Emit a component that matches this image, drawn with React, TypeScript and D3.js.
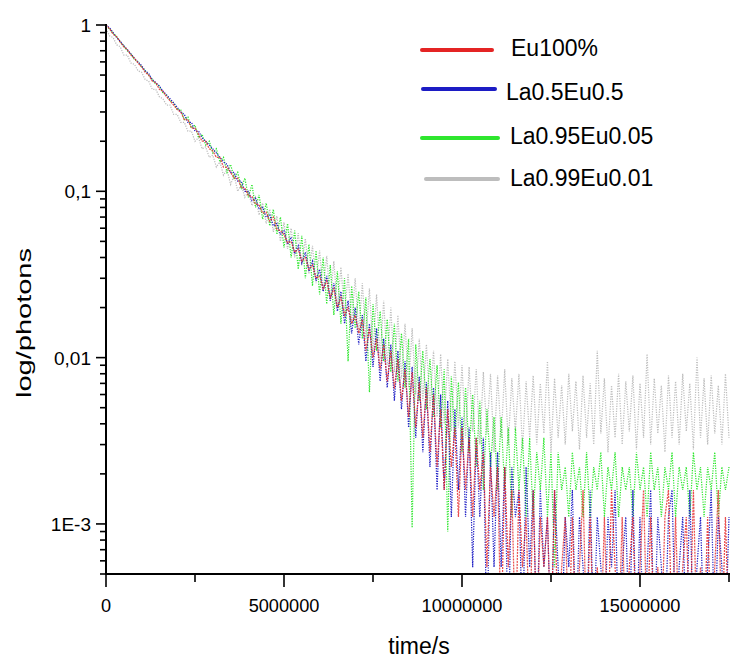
import React, { useEffect, useRef } from "react";
import * as d3 from "d3";

// time axis (s), one sample every 0.1 Ms
const times = [
  0, 0.1e6, 0.2e6, 0.3e6, 0.4e6, 0.5e6, 0.6e6, 0.7e6, 0.8e6, 0.9e6,
  1.0e6, 1.1e6, 1.2e6, 1.3e6, 1.4e6, 1.5e6, 1.6e6, 1.7e6, 1.8e6, 1.9e6,
  2.0e6, 2.1e6, 2.2e6, 2.3e6, 2.4e6, 2.5e6, 2.6e6, 2.7e6, 2.8e6, 2.9e6,
  3.0e6, 3.1e6, 3.2e6, 3.3e6, 3.4e6, 3.5e6, 3.6e6, 3.7e6, 3.8e6, 3.9e6,
  4.0e6, 4.1e6, 4.2e6, 4.3e6, 4.4e6, 4.5e6, 4.6e6, 4.7e6, 4.8e6, 4.9e6,
  5.0e6, 5.1e6, 5.2e6, 5.3e6, 5.4e6, 5.5e6, 5.6e6, 5.7e6, 5.8e6, 5.9e6,
  6.0e6, 6.1e6, 6.2e6, 6.3e6, 6.4e6, 6.5e6, 6.6e6, 6.7e6, 6.8e6, 6.9e6,
  7.0e6, 7.1e6, 7.2e6, 7.3e6, 7.4e6, 7.5e6, 7.6e6, 7.7e6, 7.8e6, 7.9e6,
  8.0e6, 8.1e6, 8.2e6, 8.3e6, 8.4e6, 8.5e6, 8.6e6, 8.7e6, 8.8e6, 8.9e6,
  9.0e6, 9.1e6, 9.2e6, 9.3e6, 9.4e6, 9.5e6, 9.6e6, 9.7e6, 9.8e6, 9.9e6,
  10.0e6, 10.1e6, 10.2e6, 10.3e6, 10.4e6, 10.5e6, 10.6e6, 10.7e6, 10.8e6, 10.9e6,
  11.0e6, 11.1e6, 11.2e6, 11.3e6, 11.4e6, 11.5e6, 11.6e6, 11.7e6, 11.8e6, 11.9e6,
  12.0e6, 12.1e6, 12.2e6, 12.3e6, 12.4e6, 12.5e6, 12.6e6, 12.7e6, 12.8e6, 12.9e6,
  13.0e6, 13.1e6, 13.2e6, 13.3e6, 13.4e6, 13.5e6, 13.6e6, 13.7e6, 13.8e6, 13.9e6,
  14.0e6, 14.1e6, 14.2e6, 14.3e6, 14.4e6, 14.5e6, 14.6e6, 14.7e6, 14.8e6, 14.9e6,
  15.0e6, 15.1e6, 15.2e6, 15.3e6, 15.4e6, 15.5e6, 15.6e6, 15.7e6, 15.8e6, 15.9e6,
  16.0e6, 16.1e6, 16.2e6, 16.3e6, 16.4e6, 16.5e6, 16.6e6, 16.7e6, 16.8e6, 16.9e6,
  17.0e6, 17.1e6, 17.2e6, 17.3e6, 17.4e6, 17.5e6,
];

// normalised photon counts, 0 = empty bin
const eu100 = [
  1, 0.95, 0.88, 0.85, 0.79, 0.74, 0.71, 0.66, 0.63, 0.59,
  0.56, 0.52, 0.50, 0.46, 0.45, 0.41, 0.40, 0.37, 0.35, 0.33,
  0.31, 0.30, 0.27, 0.27, 0.24, 0.24, 0.22, 0.20, 0.20, 0.18,
  0.175, 0.16, 0.16, 0.14, 0.14, 0.13, 0.12, 0.12, 0.105, 0.105,
  0.094, 0.093, 0.084, 0.083, 0.074, 0.075, 0.066, 0.070, 0.059, 0.058,
  0.055, 0.049, 0.050, 0.043, 0.045, 0.038, 0.040, 0.034, 0.036, 0.030,
  0.031, 0.026, 0.029, 0.023, 0.026, 0.020, 0.023, 0.018, 0.020, 0.016,
  0.018, 0.014, 0.017, 0.011, 0.015, 0.010, 0.013, 0.0085, 0.012, 0.0072,
  0.011, 0.0065, 0.0098, 0.0055, 0.0085, 0.0044, 0.0082, 0.0038, 0.0071, 0.0033,
  0.0066, 0.0027, 0.0060, 0.0022, 0.0049, 0.0016, 0.0049, 0.0022, 0.0038, 0.0011,
  0.0038, 0.0016, 0.0033, 0.0011, 0.0033, 0.0016, 0.0027, 0.00055, 0.0022, 0.0011,
  0.0022, 0, 0.0022, 0.00055, 0.0016, 0, 0.0016, 0.00055, 0.0011, 0,
  0.0016, 0, 0.0011, 0.00055, 0.0011, 0, 0.0016, 0, 0.00055, 0.0011,
  0, 0.0011, 0, 0.00055, 0.0016, 0, 0.0011, 0, 0.00055, 0,
  0.0011, 0, 0.0016, 0.00055, 0, 0.0011, 0, 0.00055, 0.0011, 0,
  0.00055, 0.0016, 0, 0.0011, 0, 0.00055, 0, 0.0011, 0.0016, 0,
  0.0011, 0, 0.00055, 0.0011, 0, 0.0016, 0, 0.00055, 0, 0.0011,
  0, 0.00055, 0.0016, 0, 0.0011, 0,
];

const la05eu05 = [
  1, 0.96, 0.90, 0.84, 0.80, 0.75, 0.71, 0.67, 0.63, 0.60,
  0.57, 0.53, 0.51, 0.47, 0.45, 0.43, 0.40, 0.38, 0.36, 0.34,
  0.32, 0.30, 0.29, 0.26, 0.26, 0.23, 0.23, 0.21, 0.20, 0.19,
  0.18, 0.17, 0.16, 0.15, 0.145, 0.13, 0.13, 0.115, 0.115, 0.10,
  0.10, 0.088, 0.091, 0.078, 0.080, 0.070, 0.072, 0.062, 0.064, 0.055,
  0.058, 0.048, 0.053, 0.042, 0.047, 0.037, 0.043, 0.033, 0.038, 0.029,
  0.034, 0.025, 0.031, 0.022, 0.028, 0.019, 0.025, 0.016, 0.022, 0.014,
  0.020, 0.012, 0.018, 0.0095, 0.016, 0.0088, 0.015, 0.0072, 0.013, 0.0066,
  0.012, 0.0055, 0.011, 0.0049, 0.0095, 0.0038, 0.0088, 0.0033, 0.0077, 0.0027,
  0.0071, 0.0022, 0.0066, 0.0016, 0.0060, 0.0016, 0.0055, 0.0011, 0.0049, 0.0016,
  0.0044, 0.0011, 0.0038, 0.00055, 0.0033, 0.0011, 0.0033, 0, 0.0027, 0.00055,
  0.0027, 0.00055, 0.0022, 0, 0.0022, 0.0011, 0.0016, 0, 0.0022, 0.00055,
  0.0016, 0, 0.0016, 0.00055, 0.0011, 0, 0.0016, 0.00055, 0, 0.0011,
  0.00055, 0.0016, 0, 0.0011, 0.00055, 0, 0.0016, 0, 0.0011, 0.00055,
  0, 0.0011, 0.00055, 0.0016, 0, 0.00055, 0.0011, 0, 0.0016, 0,
  0.0011, 0, 0.00055, 0.0016, 0, 0.0011, 0.00055, 0, 0.0011, 0.0016,
  0, 0.00055, 0.0011, 0, 0.0016, 0, 0.00055, 0.0011, 0, 0.00055,
  0.0016, 0, 0.0011, 0.00055, 0, 0.0011,
];

const la095eu005 = [
  0.98, 0.95, 0.89, 0.85, 0.79, 0.75, 0.70, 0.67, 0.62, 0.60,
  0.56, 0.53, 0.50, 0.47, 0.44, 0.43, 0.39, 0.38, 0.35, 0.34,
  0.31, 0.31, 0.27, 0.28, 0.24, 0.25, 0.21, 0.22, 0.19, 0.20,
  0.17, 0.18, 0.15, 0.16, 0.13, 0.145, 0.12, 0.13, 0.105, 0.12,
  0.092, 0.11, 0.080, 0.095, 0.068, 0.085, 0.062, 0.078, 0.055, 0.070,
  0.046, 0.064, 0.040, 0.058, 0.034, 0.054, 0.030, 0.048, 0.027, 0.044,
  0.024, 0.040, 0.021, 0.036, 0.018, 0.033, 0.016, 0.030, 0.0095, 0.027,
  0.015, 0.025, 0.013, 0.023, 0.0062, 0.021, 0.011, 0.019, 0.0095, 0.017,
  0.0082, 0.016, 0.0072, 0.014, 0.0066, 0.013, 0.00095, 0.012, 0.0055, 0.011,
  0.0049, 0.0098, 0.0044, 0.0090, 0.0038, 0.0085, 0.0009, 0.0077, 0.0033, 0.0071,
  0.0027, 0.0066, 0.0027, 0.0060, 0.0022, 0.0055, 0.0016, 0.0049, 0.0022, 0.0044,
  0.0016, 0.0044, 0.0016, 0.0038, 0.0011, 0.0038, 0.0016, 0.0033, 0.0011, 0.0033,
  0.0011, 0.0027, 0.0016, 0.0033, 0.0011, 0.0027, 0.00055, 0.0027, 0.0016, 0.0022,
  0.0011, 0.0027, 0.0016, 0.0022, 0.0011, 0.0027, 0.0011, 0.0022, 0.0016, 0.0027,
  0.0011, 0.0022, 0.0016, 0.0027, 0.0011, 0.0022, 0.0016, 0.0022, 0.0011, 0.0027,
  0.0016, 0.0022, 0.0011, 0.0027, 0.0016, 0.0022, 0.0011, 0.0022, 0.0016, 0.0027,
  0.0011, 0.0022, 0.0016, 0.0022, 0.0011, 0.0027, 0.0016, 0.0022, 0.0011, 0.0022,
  0.0016, 0.0027, 0.0011, 0.0022, 0.0016, 0.0022,
];

const la099eu001 = [
  0.95, 0.86, 0.84, 0.76, 0.74, 0.66, 0.66, 0.59, 0.58, 0.53,
  0.52, 0.47, 0.46, 0.41, 0.41, 0.37, 0.36, 0.33, 0.33, 0.29,
  0.29, 0.26, 0.26, 0.23, 0.23, 0.20, 0.21, 0.18, 0.185, 0.16,
  0.165, 0.14, 0.15, 0.125, 0.135, 0.11, 0.125, 0.10, 0.11, 0.092,
  0.10, 0.082, 0.092, 0.072, 0.085, 0.064, 0.078, 0.057, 0.071, 0.050,
  0.065, 0.045, 0.060, 0.040, 0.056, 0.036, 0.052, 0.032, 0.047, 0.028,
  0.044, 0.025, 0.041, 0.022, 0.038, 0.020, 0.035, 0.018, 0.032, 0.016,
  0.030, 0.014, 0.028, 0.013, 0.026, 0.011, 0.024, 0.0098, 0.022, 0.0090,
  0.020, 0.0082, 0.018, 0.0075, 0.016, 0.0066, 0.015, 0.0060, 0.013, 0.0055,
  0.012, 0.0049, 0.011, 0.0044, 0.0105, 0.0040, 0.0098, 0.0036, 0.0095, 0.0038,
  0.0090, 0.0033, 0.0088, 0.0036, 0.0085, 0.0030, 0.0082, 0.0035, 0.0080, 0.0027,
  0.0078, 0.0033, 0.0085, 0.0030, 0.0075, 0.0036, 0.0080, 0.0028, 0.0072, 0.0033,
  0.0078, 0.0030, 0.0070, 0.0035, 0.0095, 0.0027, 0.0075, 0.0033, 0.0068, 0.0030,
  0.0080, 0.0036, 0.0072, 0.0028, 0.0078, 0.0033, 0.0070, 0.0030, 0.011, 0.0035,
  0.0075, 0.0027, 0.0068, 0.0033, 0.0080, 0.0030, 0.0072, 0.0036, 0.0078, 0.0028,
  0.0070, 0.0033, 0.0105, 0.0030, 0.0075, 0.0035, 0.0068, 0.0027, 0.0078, 0.0033,
  0.0072, 0.0030, 0.0080, 0.0036, 0.0070, 0.0028, 0.010, 0.0033, 0.0075, 0.0030,
  0.0078, 0.0035, 0.0068, 0.0030, 0.0080, 0.0033,
];

const seriesNames = ["Eu100%", "La0.5Eu0.5", "La0.95Eu0.05", "La0.99Eu0.01"];
const seriesValues = [eu100, la05eu05, la095eu005, la099eu001];
const seriesColors = ["#e42424", "#1c1cc4", "#2ee62e", "#bdbdbd"];

const yTickValues = [1, 0.1, 0.01, 0.001];
const yTickLabels = ["1", "0,1", "0,01", "1E-3"];
const xTickValues = [0, 5e6, 10e6, 15e6];
const xTickLabels = ["0", "5000000", "10000000", "15000000"];
const xMinorTicks = [2.5e6, 7.5e6, 12.5e6, 17.5e6];

const font = "'Liberation Sans', Arial, sans-serif";

export default function App() {
  const svgRef = useRef(null);

  useEffect(() => {
    document.body.style.margin = "0";
    const svg = d3.select(svgRef.current);
    svg.selectAll("*").remove();

    const x = d3.scaleLinear().domain([0, 17.5e6]).range([106, 729]);
    const y = d3.scaleLog().domain([5e-4, 1]).range([574, 25]);
    const [yBottom, yTop] = y.range();

    svg.append("rect").attr("width", 730).attr("height", 659).attr("fill", "#fff");

    svg.append("defs").append("clipPath").attr("id", "plot-clip")
      .append("rect")
      .attr("x", x(0)).attr("y", 0)
      .attr("width", 730 - x(0)).attr("height", yBottom);

    // noisy decay curves, drawn back to front
    const line = d3.line()
      .x((d) => x(d[0]))
      .y((d) => y(Math.max(d[1], 2e-4)));

    const plot = svg.append("g").attr("clip-path", "url(#plot-clip)");
    [3, 2, 1, 0].forEach((k) => {
      const pts = times.map((t, i) => [t, seriesValues[k][i]]);
      plot.append("path")
        .attr("d", line(pts))
        .attr("fill", "none")
        .attr("stroke", seriesColors[k])
        .attr("stroke-width", 1.25)
        .attr("stroke-dasharray", k === 0 ? "2,1" : "1.2,1.3")
        .attr("opacity", k === 0 ? 0.8 : 1);
    });

    // y axis
    const axisG = svg.append("g").attr("stroke", "#000");
    axisG.append("line")
      .attr("x1", x(0)).attr("x2", x(0))
      .attr("y1", yTop - 1).attr("y2", yBottom + 1)
      .attr("stroke-width", 2);
    y.ticks().forEach((v) => {
      const major = Math.abs(Math.log10(v) - Math.round(Math.log10(v))) < 1e-9;
      axisG.append("line")
        .attr("x1", x(0) - (major ? 10 : 6)).attr("x2", x(0))
        .attr("y1", y(v)).attr("y2", y(v))
        .attr("stroke-width", 1.6);
    });

    yTickValues.forEach((v, i) => {
      svg.append("text")
        .attr("x", 91).attr("y", y(v) + 7)
        .attr("text-anchor", "end")
        .attr("font-family", font).attr("font-size", 19)
        .text(yTickLabels[i]);
    });

    // x axis
    axisG.append("line")
      .attr("x1", x(0) - 1).attr("x2", 730)
      .attr("y1", yBottom).attr("y2", yBottom)
      .attr("stroke-width", 2);
    xTickValues.forEach((v) => {
      axisG.append("line")
        .attr("x1", x(v)).attr("x2", x(v))
        .attr("y1", yBottom).attr("y2", yBottom + 13)
        .attr("stroke-width", 1.6);
    });
    xMinorTicks.forEach((v) => {
      axisG.append("line")
        .attr("x1", x(v)).attr("x2", x(v))
        .attr("y1", yBottom).attr("y2", yBottom + 8)
        .attr("stroke-width", 1.6);
    });
    xTickValues.forEach((v, i) => {
      svg.append("text")
        .attr("x", x(v)).attr("y", 612)
        .attr("text-anchor", "middle")
        .attr("font-family", font).attr("font-size", 19)
        .attr("textLength", xTickLabels[i].length * 10.1)
        .attr("lengthAdjust", "spacingAndGlyphs")
        .text(xTickLabels[i]);
    });

    // axis titles
    svg.append("text")
      .attr("x", 419).attr("y", 654)
      .attr("text-anchor", "middle")
      .attr("font-family", font).attr("font-size", 23)
      .text("time/s");

    svg.append("text")
      .attr("transform", "translate(31,323) rotate(-90)")
      .attr("text-anchor", "middle")
      .attr("font-family", font).attr("font-size", 21)
      .attr("textLength", 150)
      .attr("lengthAdjust", "spacingAndGlyphs")
      .text("log/photons");

    // legend
    const legendY = [50, 89, 138, 179];
    const legendTextY = [56, 100, 144, 186];
    const legendTextX = [511, 506, 510, 510];
    const legendLineX = [[422, 492], [423, 495], [422, 498], [426, 498]];
    seriesNames.forEach((name, i) => {
      svg.append("line")
        .attr("x1", legendLineX[i][0]).attr("x2", legendLineX[i][1])
        .attr("y1", legendY[i]).attr("y2", legendY[i])
        .attr("stroke", seriesColors[i])
        .attr("stroke-width", 4)
        .attr("stroke-linecap", "round");
      svg.append("text")
        .attr("x", legendTextX[i]).attr("y", legendTextY[i])
        .attr("font-family", font).attr("font-size", 23)
        .text(name);
    });
  }, []);

  return <svg ref={svgRef} width={730} height={659} style={{ display: "block" }} />;
}
